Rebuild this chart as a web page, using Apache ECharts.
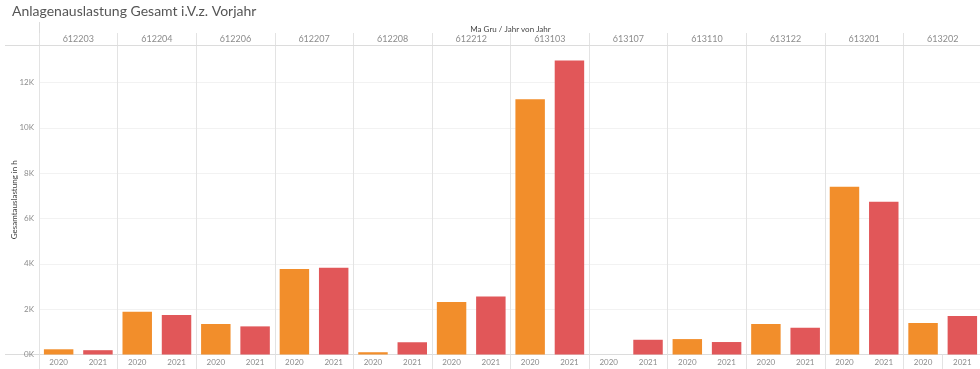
<!DOCTYPE html>
<html>
<head>
<meta charset="utf-8">
<style>
  html, body { margin: 0; padding: 0; background: #fff; }
  #chart { width: 980px; height: 369px; }
</style>
<script src="https://cdn.jsdelivr.net/npm/echarts@6/dist/echarts.min.js"></script>
</head>
<body>
<div id="chart"></div>
<script>
// ---- data ----
const groups = ['612203','612204','612206','612207','612208','612212','613103','613107','613110','613122','613201','613202'];
const years = ['2020','2021'];
const values2020 = [230, 1880, 1345, 3770, 100, 2320, 11255, null, 680, 1345, 7400, 1390];
const values2021 = [190, 1740, 1240, 3830, 540, 2560, 12970, 650, 550, 1180, 6740, 1700];
const yTicks = [0, 2000, 4000, 6000, 8000, 10000, 12000];

const colors = { '2020': '#F28E2B', '2021': '#E15759' };
const FONT = 'Lato, "Open Sans", sans-serif';

// build interleaved category list / data
const xCats = [];
const barData = [];
groups.forEach((g, i) => {
  [values2020[i], values2021[i]].forEach((v, j) => {
    xCats.push(years[j]);
    barData.push({ value: v, itemStyle: { color: colors[years[j]] } });
  });
});

const chart = echarts.init(document.getElementById('chart'), null, { renderer: 'canvas' });

chart.setOption({
  animation: false,
  backgroundColor: '#fff',
  textStyle: { fontFamily: FONT },
  title: {
    text: 'Anlagenauslastung Gesamt i.V.z. Vorjahr',
    left: 7, top: -1,
    textStyle: { fontSize: 14, fontWeight: 'normal', color: '#555', fontFamily: FONT }
  },
  grid: { left: 39, top: 45, width: 943, height: 309.5, containLabel: false, outerBoundsMode: 'none' },
  xAxis: [
    {
      type: 'category',
      data: xCats,
      position: 'bottom',
      axisLine: { show: true, lineStyle: { color: '#dcdcdc', width: 1 } },
      axisTick: { show: true, interval: 1, length: 15, lineStyle: { color: '#e3e3e3' } },
      axisLabel: { color: '#8c8c8c', fontSize: 8, margin: 4, interval: 0, fontFamily: FONT },
      splitLine: { show: false }
    },
    {
      type: 'category',
      data: groups,
      position: 'top',
      name: 'Ma Gru / Jahr von Jahr',
      nameLocation: 'middle',
      nameGap: 12,
      nameMoveOverlap: false,
      nameTextStyle: { color: '#444', fontSize: 8, fontFamily: FONT },
      axisLine: { show: true, lineStyle: { color: '#dcdcdc', width: 1 } },
      axisTick: { show: true, length: 12, lineStyle: { color: '#e3e3e3' } },
      axisLabel: { color: '#8c8c8c', fontSize: 9, margin: 1, interval: 0, fontFamily: FONT },
      splitLine: { show: true, interval: 0, lineStyle: { color: '#e3e3e3', width: 1 } }
    }
  ],
  yAxis: {
    type: 'value',
    min: 0,
    max: 13650,
    interval: 2000,
    name: 'Gesamtauslastung in h',
    nameLocation: 'middle',
    nameRotate: 90,
    nameGap: 21,
    nameMoveOverlap: false,
    nameTextStyle: { color: '#444', fontSize: 8, fontFamily: FONT },
    axisLine: { show: false },
    axisTick: { show: false },
    axisLabel: {
      color: '#8c8c8c', fontSize: 8, margin: 5, showMaxLabel: false, fontFamily: FONT,
      formatter: v => (yTicks.indexOf(v) >= 0 ? (v / 1000) + 'K' : '')
    },
    splitLine: { show: true, lineStyle: { color: '#f2f2f2', width: 1 } }
  },
  graphic: [
    { type: 'line', shape: { x1: 5, y1: 45.5, x2: 39, y2: 45.5 }, style: { stroke: '#dcdcdc', lineWidth: 1 }, silent: true },
    { type: 'line', shape: { x1: 5, y1: 354.5, x2: 39, y2: 354.5 }, style: { stroke: '#dcdcdc', lineWidth: 1 }, silent: true },
    { type: 'line', shape: { x1: 39.5, y1: 22, x2: 39.5, y2: 369 }, style: { stroke: '#dcdcdc', lineWidth: 1 }, silent: true }
  ],
  series: [
    {
      type: 'bar',
      xAxisIndex: 0,
      data: barData,
      barWidth: '75%',
      itemStyle: { borderWidth: 0 }
    }
  ]
});
</script>
</body>
</html>
